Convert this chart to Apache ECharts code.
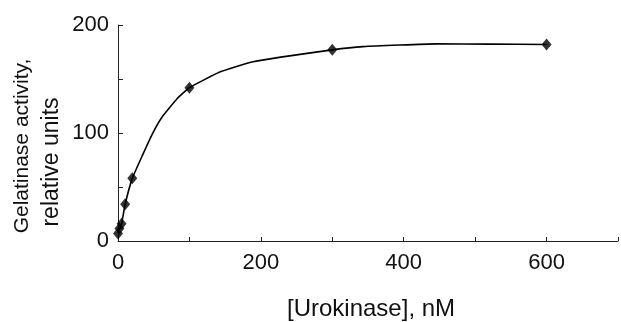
<!DOCTYPE html>
<html>
<head>
<meta charset="utf-8">
<script src="https://cdn.jsdelivr.net/npm/echarts@6/dist/echarts.min.js"></script>
<style>
html,body{margin:0;padding:0;background:#fff;}
#c{width:621px;height:322px;}
</style>
</head>
<body>
<div id="c"></div>
<script>
// Measured points: urokinase concentration (nM) vs gelatinase activity
const concentration = [0, 2, 5, 10, 20, 100, 300, 600];
const activity = [7, 11.5, 16, 34, 58, 142, 177, 182];
// Fitted curve drawn through the points
const fitConcentration = [0, 5, 10, 20, 34, 48, 62, 83, 100, 141, 189, 300, 343, 445, 519, 600];
const fitActivity = [7, 16, 34, 58, 79, 99, 115, 132, 142, 156, 166, 177, 180, 182.5, 182.3, 182];
// Axis ticks
const xTickLabels = [0, 200, 400, 600];
const yTickLabels = [0, 100, 200];

const FONT = '"Liberation Sans", Arial, Helvetica, sans-serif';
const chart = echarts.init(document.getElementById('c'), null, {renderer: 'canvas'});

const points = concentration.map((c, i) => [c, activity[i]]);
const fit = fitConcentration.map((c, i) => [c, fitActivity[i]]);

chart.setOption({
  animation: false,
  backgroundColor: '#ffffff',
  grid: {left: 118, right: 1, top: 25, bottom: 81, containLabel: false},
  xAxis: {
    type: 'value', min: 0, max: 700, interval: 100,
    axisLine: {show: true, lineStyle: {color: '#222', width: 1}},
    axisTick: {show: true, inside: true, length: 4, lineStyle: {color: '#222'}},
    splitLine: {show: false},
    axisLabel: {
      margin: 11, color: '#111', fontSize: 22, fontFamily: FONT,
      formatter: v => xTickLabels.includes(v) ? String(v) : ''
    }
  },
  yAxis: {
    type: 'value', min: 0, max: 200, interval: 50,
    axisLine: {show: true, lineStyle: {color: '#222', width: 1}},
    axisTick: {show: true, inside: true, length: 5, lineStyle: {color: '#222'}},
    splitLine: {show: false},
    axisLabel: {
      margin: 9, color: '#111', fontSize: 22, fontFamily: FONT,
      formatter: v => yTickLabels.includes(v) ? String(v) : ''
    }
  },
  graphic: [
    {
      type: 'text', left: 287, top: 297,
      style: {text: '[Urokinase], nM', fontSize: 24, fontFamily: FONT, fill: '#111'}
    },
    {
      type: 'text', x: 22, y: 146, rotation: Math.PI / 2,
      style: {text: 'Gelatinase activity,', fontSize: 21, fontFamily: FONT, fill: '#111',
              align: 'center', verticalAlign: 'middle'}
    },
    {
      type: 'text', x: 52, y: 162, rotation: Math.PI / 2,
      style: {text: 'relative units', fontSize: 23, fontFamily: FONT, fill: '#111',
              align: 'center', verticalAlign: 'middle'}
    }
  ],
  series: [
    {
      type: 'line', data: fit, smooth: 0.12,
      showSymbol: false, symbol: 'none',
      lineStyle: {color: '#000', width: 1.6}, z: 2
    },
    {
      type: 'scatter', data: points, symbol: 'diamond', symbolSize: [10, 12],
      itemStyle: {color: '#000'}, z: 3
    }
  ]
});
</script>
</body>
</html>
